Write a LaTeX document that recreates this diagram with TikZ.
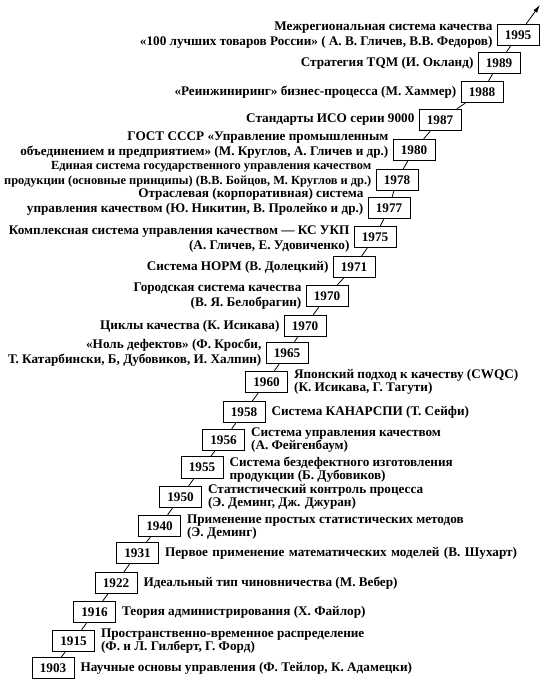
\documentclass[tikz,border=0pt]{standalone}
\usepackage{fontspec}
\setmainfont{Liberation Serif}
\usetikzlibrary{arrows.meta}
\begin{document}
\begin{tikzpicture}[x=1pt,y=-1pt,
  yr/.style={draw, line width=0.8pt, fill=white, minimum width=42pt, minimum height=21.5pt, inner sep=0pt, font=\fontsize{13.2}{13}\selectfont\bfseries},
  lblL/.style={align=right, inner sep=0pt, anchor=east, font=\fontsize{13.2}{14.8}\selectfont\bfseries},
  lblR/.style={align=left, inner sep=0pt, anchor=west, font=\fontsize{13.2}{12.8}\selectfont\bfseries},
  conn/.style={line width=0.8pt}]
\useasboundingbox (0,0) rectangle (545,692);
% boxes
\node[yr] (y1995) at (518,35) {1995};
\node[yr] (y1989) at (499,63) {1989};
\node[yr] (y1988) at (482,92) {1988};
\node[yr] (y1987) at (440,120) {1987};
\node[yr] (y1980) at (414,150) {1980};
\node[yr] (y1978) at (397,180) {1978};
\node[yr] (y1977) at (389,208) {1977};
\node[yr] (y1975) at (375,237) {1975};
\node[yr] (y1971) at (354,267) {1971};
\node[yr] (y1970a) at (327,296) {1970};
\node[yr] (y1970b) at (305,326) {1970};
\node[yr] (y1965) at (287,353) {1965};
\node[yr] (y1960) at (266.5,382) {1960};
\node[yr] (y1958) at (244,412) {1958};
\node[yr] (y1956) at (223.5,440) {1956};
\node[yr] (y1955) at (202,467.5) {1955};
\node[yr] (y1950) at (180.5,497) {1950};
\node[yr] (y1940) at (159.5,526) {1940};
\node[yr] (y1931) at (137.5,553) {1931};
\node[yr] (y1922) at (116,583) {1922};
\node[yr] (y1916) at (94.5,612) {1916};
\node[yr] (y1915) at (73.5,641) {1915};
\node[yr] (y1903) at (53,668) {1903};
\coordinate (arrowend) at (540,5);
% connectors
\draw[conn] (y1903) -- (y1915);
\draw[conn] (y1915) -- (y1916);
\draw[conn] (y1916) -- (y1922);
\draw[conn] (y1922) -- (y1931);
\draw[conn] (y1931) -- (y1940);
\draw[conn] (y1940) -- (y1950);
\draw[conn] (y1950) -- (y1955);
\draw[conn] (y1955) -- (y1956);
\draw[conn] (y1956) -- (y1958);
\draw[conn] (y1958) -- (y1960);
\draw[conn] (y1960) -- (y1965);
\draw[conn] (y1965) -- (y1970b);
\draw[conn] (y1970b) -- (y1970a);
\draw[conn] (y1970a) -- (y1971);
\draw[conn] (y1971) -- (y1975);
\draw[conn] (y1975) -- (y1977);
\draw[conn] (y1977) -- (y1978);
\draw[conn] (y1978) -- (y1980);
\draw[conn] (y1980) -- (y1987);
\draw[conn] (y1987) -- (y1988);
\draw[conn] (y1988) -- (y1989);
\draw[conn] (y1989) -- (y1995);
\draw[conn,-{Latex[length=8pt,width=4.5pt]}] (y1995) -- (arrowend);
% upper labels
\node[lblL] (t1995) at ([xshift=-4pt]y1995.west) {Межрегиональная система качества\\«100 лучших товаров России» ( А. В. Гличев, В.В. Федоров)};
\node[lblL] (t1989) at ([xshift=-4pt]y1989.west) {Стратегия TQM (И. Окланд)};
\node[lblL] (t1988) at ([xshift=-4pt]y1988.west) {«Реинжиниринг» бизнес-процесса (М. Хаммер)};
\node[lblL] (t1987) at ([xshift=-4pt]y1987.west) {Стандарты ИСО серии 9000};
\node[lblL] (t1980) at ([xshift=-4pt,yshift=5pt]y1980.west) {ГОСТ СССР «Управление промышленным\\объединением и предприятием» (М. Круглов, А. Гличев и др.)};
\node[lblL,font=\fontsize{12.4}{14.8}\selectfont\bfseries] (t1978) at ([xshift=-4pt,yshift=6pt]y1978.west) {Единая система государственного управления качеством\\продукции (основные принципы) (В.В. Бойцов, М. Круглов и др.)};
\node[lblL] (t1977) at ([xshift=-4pt,yshift=6pt]y1977.west) {Отраслевая (корпоративная) система\\управления качеством (Ю. Никитин, В. Пролейко и др.)};
\node[lblL] (t1975) at ([xshift=-4pt,yshift=-2pt]y1975.west) {Комплексная система управления качеством — КС УКП\\(А. Гличев, Е. Удовиченко)};
\node[lblL] (t1971) at ([xshift=-4pt]y1971.west) {Система НОРМ (В. Долецкий)};
\node[lblL] (t1970a) at ([xshift=-4pt]y1970a.west) {Городская система качества\\(В. Я. Белобрагин)};
\node[lblL] (t1970b) at ([xshift=-4pt]y1970b.west) {Циклы качества (К. Исикава)};
\node[lblL] (t1965) at ([xshift=-4pt]y1965.west) {«Ноль дефектов» (Ф. Кросби,\\Т. Катарбински, Б, Дубовиков, И. Халпин)};
% lower labels
\node[lblR] (t1960) at ([xshift=6pt]y1960.east) {Японский подход к качеству (CWQC)\\(К. Исикава, Г. Тагути)};
\node[lblR] (t1958) at ([xshift=6pt]y1958.east) {Система КАНАРСПИ (Т. Сейфи)};
\node[lblR] (t1956) at ([xshift=6pt]y1956.east) {Система управления качеством\\(А. Фейгенбаум)};
\node[lblR] (t1955) at ([xshift=6pt,yshift=-2pt]y1955.east) {Система бездефектного изготовления\\продукции (Б. Дубовиков)};
\node[lblR] (t1950) at ([xshift=6pt]y1950.east) {Статистический контроль процесса\\(Э. Деминг, Дж. Джуран)};
\node[lblR] (t1940) at ([xshift=6pt,yshift=-1pt]y1940.east) {Применение простых статистических методов\\(Э. Деминг)};
\node[lblR] (t1931) at ([xshift=6pt]y1931.east) {\makebox[352pt][s]{Первое применение математических моделей (В. Шухарт)}};
\node[lblR] (t1922) at ([xshift=6pt]y1922.east) {Идеальный тип чиновничества (М. Вебер)};
\node[lblR] (t1916) at ([xshift=6pt]y1916.east) {Теория администрирования (Х. Файлор)};
\node[lblR] (t1915) at ([xshift=6pt]y1915.east) {Пространственно-временное распределение\\(Ф. и Л. Гилберт, Г. Форд)};
\node[lblR] (t1903) at ([xshift=6pt]y1903.east) {Научные основы управления (Ф. Тейлор, К. Адамецки)};
\end{tikzpicture}
\end{document}
